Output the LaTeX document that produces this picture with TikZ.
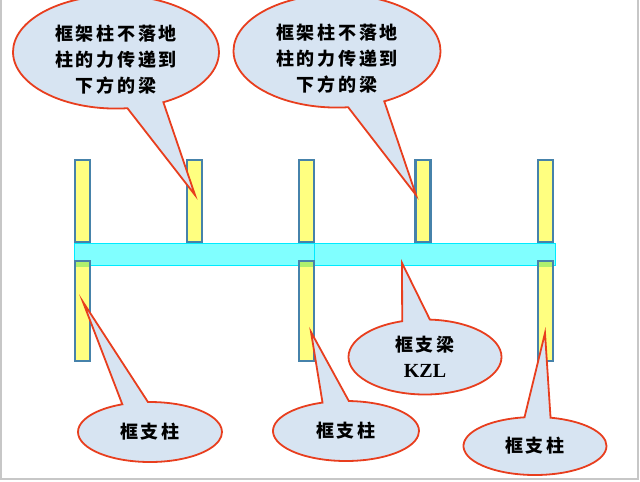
\documentclass[tikz,border=0pt]{standalone}
\usepackage{fontspec}
\setmainfont{Liberation Serif}
\newfontfamily\cjk{Noto Sans CJK SC}
\usetikzlibrary{shapes.callouts}
\definecolor{saeulerand}{RGB}{70,130,170}
\definecolor{saeulegelb}{RGB}{255,255,128}
\definecolor{balkencyan}{RGB}{128,255,255}
\definecolor{balkenrand}{RGB}{0,235,255}
\definecolor{ueberlapp}{RGB}{175,240,110}
\definecolor{blasenblau}{RGB}{215,228,242}
\definecolor{blasenrand}{RGB}{232,62,30}
\tikzset{
    %Define style for columns
    saeule/.style={
           rectangle,
           draw=saeulerand,
           fill=saeulegelb,
           line width=2.4pt,
           minimum width=15pt,
           inner sep=0pt},
    % lower columns reach into the beam
    unten/.style={
           path picture={\fill[ueberlapp] (path picture bounding box.north west)
             rectangle ([yshift=-6pt]path picture bounding box.north east);}},
    % Define style for the beam
    balken/.style={
           rectangle,
           draw=balkenrand,
           fill=balkencyan,
           line width=1pt,
           minimum height=22pt,
           inner sep=0pt},
    % Define style for speech bubbles
    blase/.style={
           ellipse callout,
           draw=blasenrand,
           fill=blasenblau,
           line width=1.8pt,
           callout pointer arc=21,
           inner sep=0pt,
           align=center,
           font=\cjk\bfseries\fontsize{18}{26}\selectfont\addfontfeatures{LetterSpace=15}},
    rahmen/.style={
           draw=black!22,
           line width=1.5pt}
}

\begin{document}
\begin{tikzpicture}[x=1pt,y=-1pt]
  \useasboundingbox (0,0) rectangle (640,482);
  \draw[rahmen] (1,0) -- (1,479) -- (638,479) -- (638,0);
  % upper columns
  \foreach \x [count=\i] in {82.5,194.5,306.5,423,545.5}
    \node[saeule,minimum height=82pt] (o\i) at (\x,201) {};
  % beam KZL
  \node[balken,minimum width=240pt] (b1) at (194,254.5) {};
  \node[balken,minimum width=241pt] (b2) at (434.5,254.5) {};
  % lower columns
  \foreach \x [count=\i] in {82.5,306.5,545.5}
    \node[saeule,unten,minimum height=100pt] (u\i) at (\x,311) {};
  % pointer tips
  \coordinate (s1) at (195,195);
  \coordinate (s2) at (416,195);
  \coordinate (s3) at (83,302);
  \coordinate (s4) at (311,332);
  \coordinate (s5) at (402,263);
  \coordinate (s6) at (545,333);
  % speech bubbles
  \node[blase,minimum width=206pt,minimum height=102pt,text height=80pt,text depth=0pt,
    callout absolute pointer={(s1)}]
    (k1) at (116,52) {框架柱不落地\\柱的力传递到\\下方的梁};
  \node[blase,minimum width=207pt,minimum height=102pt,text height=80pt,text depth=0pt,
    callout absolute pointer={(s2)}]
    (k2) at (337,51) {框架柱不落地\\柱的力传递到\\下方的梁};
  \node[blase,minimum width=144pt,minimum height=60pt,callout absolute pointer={(s3)}]
    (k3) at (150,432) {框支柱};
  \node[blase,minimum width=146pt,minimum height=60pt,callout absolute pointer={(s4)}]
    (k4) at (346,431) {框支柱};
  \node[blase,minimum width=153pt,minimum height=75pt,callout absolute pointer={(s5)}]
    (k5) at (425,357) {框支梁\\{\rmfamily\bfseries\fontsize{20}{26}\selectfont KZL}};
  \node[blase,minimum width=143pt,minimum height=58pt,callout absolute pointer={(s6)}]
    (k6) at (535,446) {框支柱};
\end{tikzpicture}
\end{document}
